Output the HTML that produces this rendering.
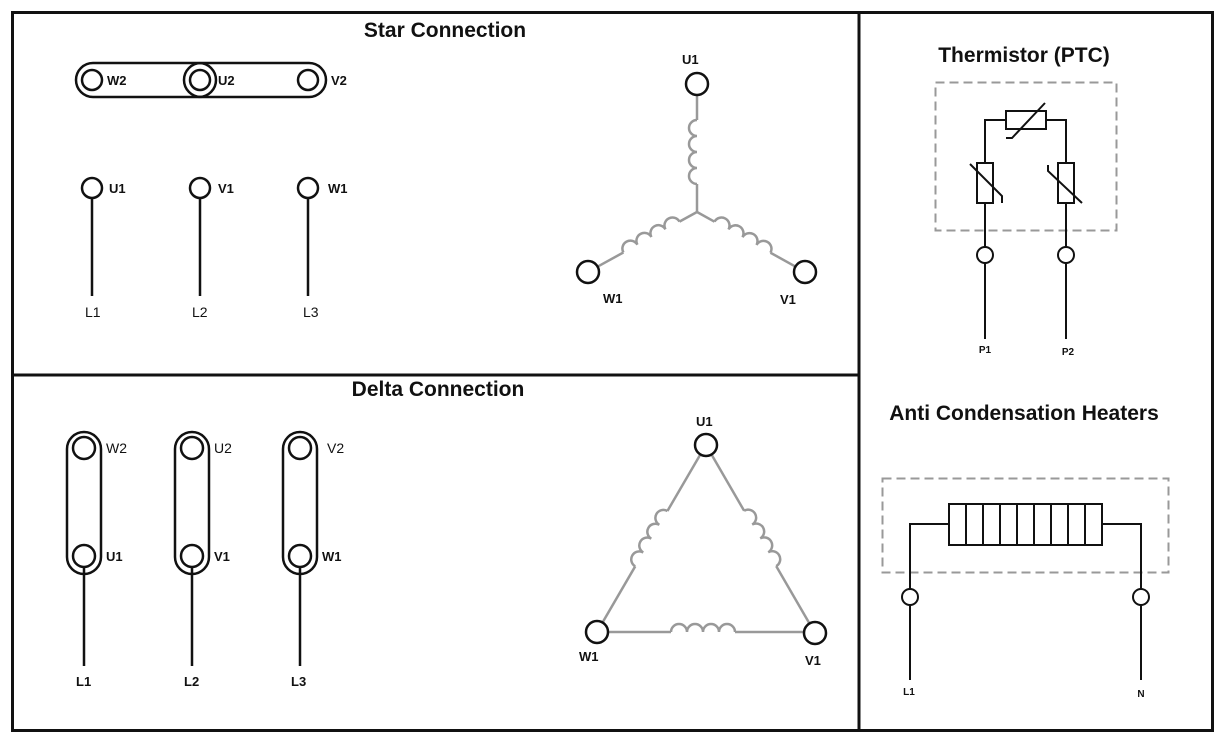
<!DOCTYPE html>
<html><head><meta charset="utf-8"><style>
html,body{margin:0;padding:0;background:#fff}
svg{display:block}
text{font-family:"Liberation Sans",Arial,sans-serif;fill:#111}
.t{font-size:21px;font-weight:bold;text-anchor:middle}
.b{font-size:13px;font-weight:bold}
.n{font-size:14px}
.s{font-size:10px;font-weight:bold;text-anchor:middle}
</style></head><body>
<svg width="1225" height="737" viewBox="0 0 1225 737" xmlns="http://www.w3.org/2000/svg">
<defs>
<path id="coil" d="M0,0 a8,8 0 0 1 16,0 a8,8 0 0 1 16,0 a8,8 0 0 1 16,0 a8,8 0 0 1 16,0" fill="none"/>
</defs>
<g fill="none" stroke="#111" stroke-width="3">
<rect x="12.5" y="12.5" width="1200" height="718"/>
<line x1="859" y1="12" x2="859" y2="731"/>
<line x1="12" y1="375" x2="859" y2="375"/>
</g>
<text class="t" x="445" y="37">Star Connection</text>
<text class="t" x="438" y="396">Delta Connection</text>
<text class="t" x="1024" y="62">Thermistor (PTC)</text>
<text class="t" x="1024" y="420">Anti Condensation Heaters</text>

<!-- Star terminal block -->
<g fill="none" stroke="#111" stroke-width="2.5">
<rect x="76" y="63" width="140" height="34" rx="17"/>
<rect x="184" y="63" width="142" height="34" rx="17"/>
<circle cx="92" cy="80" r="10"/><circle cx="200" cy="80" r="10"/><circle cx="308" cy="80" r="10"/>
<circle cx="92" cy="188" r="10"/><circle cx="200" cy="188" r="10"/><circle cx="308" cy="188" r="10"/>
<line x1="92" y1="198" x2="92" y2="296"/><line x1="200" y1="198" x2="200" y2="296"/><line x1="308" y1="198" x2="308" y2="296"/>
</g>
<text class="b" x="107" y="85">W2</text><text class="b" x="218" y="85">U2</text><text class="b" x="331" y="85">V2</text>
<text class="b" x="109" y="193">U1</text><text class="b" x="218" y="193">V1</text><text class="b" x="328" y="193">W1</text>
<text class="n" x="85" y="317">L1</text><text class="n" x="192" y="317">L2</text><text class="n" x="303" y="317">L3</text>

<!-- Star windings -->
<g fill="none" stroke="#999" stroke-width="2.5">
<g transform="translate(697,212) rotate(-90)"><line x1="0" y1="0" x2="28" y2="0"/><use href="#coil" x="28"/><line x1="92" y1="0" x2="117" y2="0"/></g>
<g transform="translate(697,212) rotate(151.2)"><line x1="0" y1="0" x2="20" y2="0"/><use href="#coil" x="20" transform="scale(1,-1)"/><line x1="84" y1="0" x2="113" y2="0"/></g>
<g transform="translate(697,212) rotate(29)"><line x1="0" y1="0" x2="20" y2="0"/><use href="#coil" x="20"/><line x1="84" y1="0" x2="112" y2="0"/></g>
</g>
<g fill="#fff" stroke="#111" stroke-width="2.5">
<circle cx="697" cy="84" r="11"/><circle cx="588" cy="272" r="11"/><circle cx="805" cy="272" r="11"/>
</g>
<text class="b" x="682" y="64">U1</text><text class="b" x="603" y="303">W1</text><text class="b" x="780" y="304">V1</text>

<!-- Delta terminal blocks -->
<g fill="none" stroke="#111" stroke-width="2.5">
<rect x="67" y="432" width="34" height="142" rx="17"/>
<rect x="175" y="432" width="34" height="142" rx="17"/>
<rect x="283" y="432" width="34" height="142" rx="17"/>
<circle cx="84" cy="448" r="11"/><circle cx="84" cy="556" r="11"/>
<circle cx="192" cy="448" r="11"/><circle cx="192" cy="556" r="11"/>
<circle cx="300" cy="448" r="11"/><circle cx="300" cy="556" r="11"/>
<line x1="84" y1="567" x2="84" y2="666"/><line x1="192" y1="567" x2="192" y2="666"/><line x1="300" y1="567" x2="300" y2="666"/>
</g>
<text class="n" x="106" y="453">W2</text><text class="n" x="214" y="453">U2</text><text class="n" x="327" y="453">V2</text>
<text class="b" x="106" y="561">U1</text><text class="b" x="214" y="561">V1</text><text class="b" x="322" y="561">W1</text>
<text class="b" x="76" y="686">L1</text><text class="b" x="184" y="686">L2</text><text class="b" x="291" y="686">L3</text>

<!-- Delta windings -->
<g fill="none" stroke="#999" stroke-width="2.5">
<g transform="translate(597,632) rotate(-59.8)"><line x1="0" y1="0" x2="76" y2="0"/><use href="#coil" x="76"/><line x1="140" y1="0" x2="216" y2="0"/></g>
<g transform="translate(706,445) rotate(59.9)"><line x1="0" y1="0" x2="76" y2="0"/><use href="#coil" x="76"/><line x1="140" y1="0" x2="217" y2="0"/></g>
<g transform="translate(597,632)"><line x1="0" y1="0" x2="74" y2="0"/><use href="#coil" x="74"/><line x1="138" y1="0" x2="218" y2="0"/></g>
</g>
<g fill="#fff" stroke="#111" stroke-width="2.5">
<circle cx="706" cy="445" r="11"/><circle cx="597" cy="632" r="11"/><circle cx="815" cy="633" r="11"/>
</g>
<text class="b" x="696" y="426">U1</text><text class="b" x="579" y="661">W1</text><text class="b" x="805" y="665">V1</text>

<!-- Thermistor -->
<rect x="935.5" y="82.5" width="181" height="148" fill="none" stroke="#999" stroke-width="2" stroke-dasharray="9,5"/>
<g fill="none" stroke="#111" stroke-width="2">
<polyline points="985,247 985,120 1006,120"/><polyline points="1046,120 1066,120 1066,247"/>
<rect x="1006" y="111" width="40" height="18" fill="#fff"/>
<polyline points="1006,138 1012,138 1045,103"/>
<rect x="977" y="163" width="16" height="40" fill="#fff"/>
<polyline points="970,164 1002,196 1002,203"/>
<rect x="1058" y="163" width="16" height="40" fill="#fff"/>
<polyline points="1048,165 1048,171 1082,203"/>
<circle cx="985" cy="255" r="8"/><circle cx="1066" cy="255" r="8"/>
<line x1="985" y1="263" x2="985" y2="339"/><line x1="1066" y1="263" x2="1066" y2="339"/>
</g>
<text class="s" x="985" y="353">P1</text><text class="s" x="1068" y="355">P2</text>

<!-- Heater -->
<rect x="882.5" y="478.5" width="286" height="94" fill="none" stroke="#999" stroke-width="2" stroke-dasharray="9,5"/>
<g fill="none" stroke="#111" stroke-width="2">
<polyline points="910,589 910,524 949,524"/><polyline points="1102,524 1141,524 1141,589"/>
<rect x="949" y="504" width="153" height="41"/>
<line x1="966" y1="504" x2="966" y2="545"/><line x1="983" y1="504" x2="983" y2="545"/>
<line x1="1000" y1="504" x2="1000" y2="545"/><line x1="1017" y1="504" x2="1017" y2="545"/>
<line x1="1034" y1="504" x2="1034" y2="545"/><line x1="1051" y1="504" x2="1051" y2="545"/>
<line x1="1068" y1="504" x2="1068" y2="545"/><line x1="1085" y1="504" x2="1085" y2="545"/>
<circle cx="910" cy="597" r="8"/><circle cx="1141" cy="597" r="8"/>
<line x1="910" y1="605" x2="910" y2="680"/><line x1="1141" y1="605" x2="1141" y2="680"/>
</g>
<text class="s" x="909" y="695">L1</text><text class="s" x="1141" y="697">N</text>
</svg>
</body></html>
